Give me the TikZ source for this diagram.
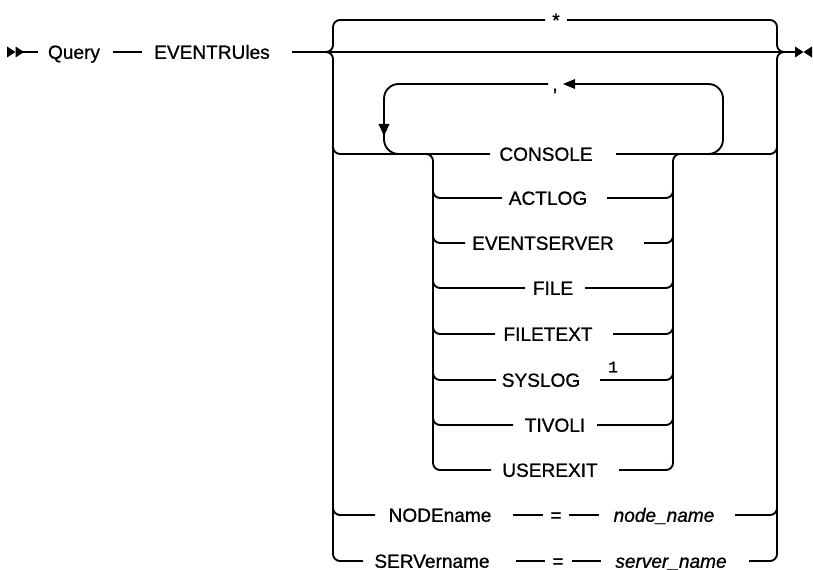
\documentclass[tikz,border=0pt]{standalone}
\usepackage{fontspec}
\setmainfont{Liberation Sans}[FakeBold=0.9]
\newfontfamily\supfont{Liberation Mono}[FakeBold=0.9]
\begin{document}
\begin{tikzpicture}[x=0.75pt,y=-0.75pt]
\tikzset{
  rail/.style={line width=1.4pt, rounded corners=5.25pt},
  loopline/.style={line width=1.4pt, rounded corners=11pt},
  kw/.style={inner sep=0pt, text height=10.2pt, text depth=0pt, font=\fontsize{14.3}{16}\selectfont},
  var/.style={kw, font=\fontsize{14.3}{16}\selectfont\itshape},
  supnum/.style={inner sep=0pt, font=\fontsize{12}{14}\selectfont\supfont}
}
\useasboundingbox (0,0) rectangle (813,570);
\fill[white] (0,0) rectangle (813,570);

% texts
\node[kw] (query) at (74,52) {Query};
\node[kw] (eventrules) at (212,52) {EVENTRUles};
\node[kw] (star) at (556,20) {*};
\node[kw] (comma) at (555,84) {,};
\node[kw] (console) at (546,154) {CONSOLE};
\node[kw] (actlog) at (548,198) {ACTLOG};
\node[kw] (eventserver) at (543,243) {EVENTSERVER};
\node[kw] (file) at (553,288) {FILE};
\node[kw] (filetext) at (548,334) {FILETEXT};
\node[kw] (syslog) at (541,380) {SYSLOG};
\node[supnum] (note) at (613,367) {1};
\node[kw] (tivoli) at (555,425) {TIVOLI};
\node[kw] (userexit) at (550,470) {USEREXIT};
\node[kw] (nodename) at (440,515) {NODEname};
\node[kw] (eq1) at (556,515) {=};
\node[var] (nodevar) at (664,515) {node\_name};
\node[kw] (servername) at (432,561) {SERVername};
\node[kw] (eq2) at (558,561) {=};
\node[var] (servervar) at (671,561) {server\_name};

% start and end marks
\fill (7,46.5) -- (15.5,52) -- (7,57.5) -- cycle;
\fill (15.5,46.5) -- (24,52) -- (15.5,57.5) -- cycle;
\fill (795,46.5) -- (803.5,52) -- (795,57.5) -- cycle;
\fill (812,46.5) -- (803.5,52) -- (812,57.5) -- cycle;

% main line
\draw[rail] (22,52) -- (38,52);
\draw[rail] (113,52) -- (142,52);
\draw[rail] (292,52) -- (795,52);

% outer left brace
\draw[rail] (325,52) -| (333,20) -- (545,20);
\draw[rail] (325,52) -| (333,561) -- (363,561);
\draw[rail] (333,140) |- (490,154);
\draw[rail] (333,501) |- (375,515);

% outer right brace
\draw[rail] (567,20) -| (777,52) -- (786,52);
\draw[rail] (749,561) -| (777,52) -- (786,52);
\draw[rail] (616,154) -| (777,140);
\draw[rail] (735,515) -| (777,501);

% repeat loop
\draw[loopline] (700,154) -| (723,84) -- (575,84);
\draw[loopline] (548,84) -| (384,154) -- (402,154);
\fill (563,84) -- (575,79) -- (575,89) -- cycle;
\fill (384,136) -- (378.5,124) -- (389.5,124) -- cycle;

% inner left branch
\draw[rail] (421,154) -| (433,470) -- (491,470);
\draw[rail] (433,186) |- (502,198);
\draw[rail] (433,231) |- (465,243);
\draw[rail] (433,276) |- (525,288);
\draw[rail] (433,322) |- (495,334);
\draw[rail] (433,368) |- (496,380);
\draw[rail] (433,413) |- (513,425);

% inner right branch
\draw[rail] (619,470) -| (673,154) -- (685,154);
\draw[rail] (607,198) -| (673,186);
\draw[rail] (644,243) -| (673,231);
\draw[rail] (585,288) -| (673,276);
\draw[rail] (613,334) -| (673,322);
\draw[rail] (600,380) -| (673,368);
\draw[rail] (597,425) -| (673,413);

% NODEname row
\draw[rail] (513,515) -- (543,515);
\draw[rail] (569,515) -- (599,515);
% SERVername row
\draw[rail] (516,561) -- (545,561);
\draw[rail] (572,561) -- (601,561);
\end{tikzpicture}
\end{document}
